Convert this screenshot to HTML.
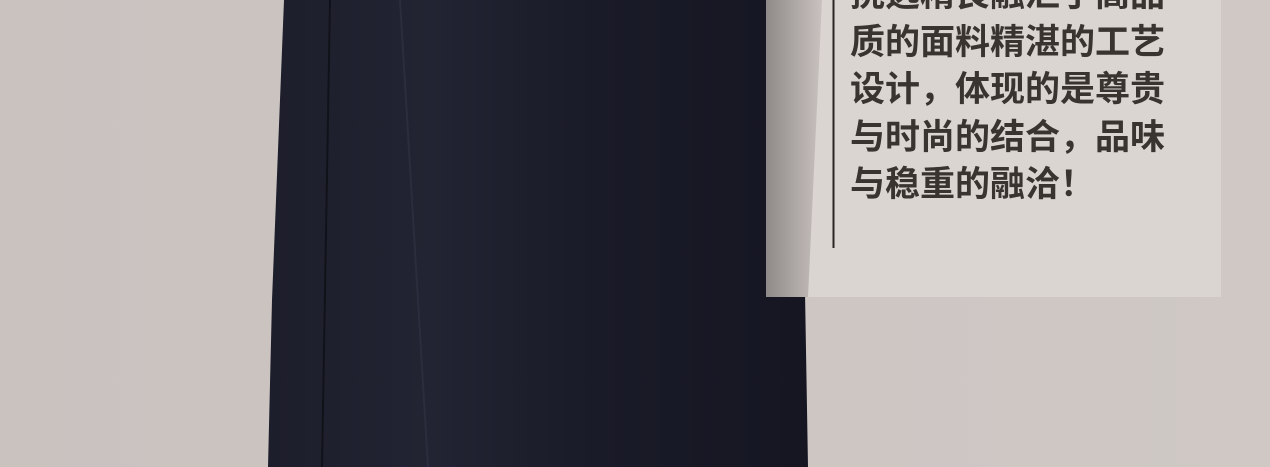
<!DOCTYPE html>
<html><head><meta charset="utf-8"><style>
html,body{margin:0;padding:0}
body{width:1270px;height:467px;overflow:hidden;background:#cbc4c1;position:relative;font-family:"Liberation Sans","Noto Sans CJK SC",sans-serif}
.t{position:absolute;left:850px;font-size:35px;line-height:47.5px;color:#3a3431;font-weight:bold;white-space:nowrap}
</style></head><body>
<svg width="1270" height="467" style="position:absolute;left:0;top:0">
<defs>
<linearGradient id="bg" x1="0" x2="1"><stop offset="0" stop-color="#c9c2bf"/><stop offset="1" stop-color="#cfc8c5"/></linearGradient>
<linearGradient id="jk" x1="0" x2="1"><stop offset="0" stop-color="#1d1e2b"/><stop offset="0.3" stop-color="#222433"/><stop offset="0.6" stop-color="#1a1b28"/><stop offset="1" stop-color="#151622"/></linearGradient>
<linearGradient id="sh" x1="0" x2="1"><stop offset="0" stop-color="#8f8a89"/><stop offset="1" stop-color="#c9c2bf"/></linearGradient>
</defs>
<rect width="1270" height="467" fill="url(#bg)"/>
<polygon points="284,0 800,0 808,467 268,467 272,300 278,150" fill="url(#jk)"/>
<line x1="330" y1="0" x2="322" y2="467" stroke="#111219" stroke-width="2"/>
<line x1="400" y1="0" x2="428" y2="467" stroke="#2b2d3c" stroke-width="2"/>
<rect x="766" y="0" width="455" height="297" fill="#dbd5d2"/>
<polygon points="766,0 822,0 808,297 766,297" fill="url(#sh)"/>
<line x1="833.5" y1="0" x2="833.5" y2="248" stroke="#2a2524" stroke-width="2"/>
</svg>
<div class="t" style="top:-29px">
<div>挑选精良融汇了高品</div>
<div>质的面料精湛的工艺</div>
<div>设计，体现的是尊贵</div>
<div>与时尚的结合，品味</div>
<div>与稳重的融洽！</div>
</div>
</body></html>
